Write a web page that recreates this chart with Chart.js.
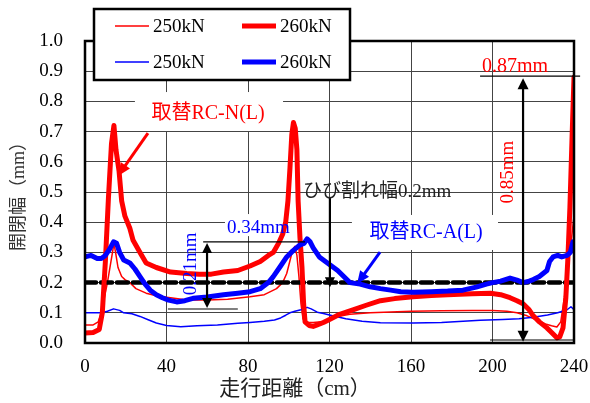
<!DOCTYPE html>
<html><head><meta charset="utf-8">
<script src="https://cdn.jsdelivr.net/npm/chart.js@4.4.1/dist/chart.umd.min.js"></script>
<style>html,body{margin:0;padding:0;background:#fff;}canvas{display:block;}</style>
</head><body>
<canvas id="c" width="590" height="403"></canvas>
<script>
// ---- tick labels ----
const xTicks = [0, 40, 80, 120, 160, 200, 240];
const yTicks = [0.0, 0.1, 0.2, 0.3, 0.4, 0.5, 0.6, 0.7, 0.8, 0.9, 1.0];

// ---- series labels ----
const seriesLabels = ['250kN', '260kN', '250kN', '260kN'];

// ---- 取替RC-N(L) 250kN (thin red) ----
const redThinX = [0,4,6.5,8,9.5,11,12.5,13.5,14.2,15,16.2,18,19.6,22,25,30,36,42,50,60,70,81,88,94,97,99,100.5,102,103,104,105,106,107,109,112,116,120,124,130,140,150,160,175,190,200,207,212,217,222,226,229,231.6,233.5,235.6,237,238.5,240];
const redThinY = [0.06,0.06,0.07,0.1,0.15,0.2,0.26,0.3,0.33,0.3,0.25,0.22,0.21,0.2,0.18,0.165,0.155,0.15,0.142,0.142,0.145,0.153,0.16,0.18,0.2,0.23,0.27,0.31,0.32,0.29,0.22,0.13,0.08,0.068,0.068,0.07,0.078,0.088,0.095,0.1,0.103,0.105,0.107,0.108,0.108,0.105,0.1,0.09,0.075,0.063,0.057,0.053,0.07,0.165,0.25,0.33,0.42];

// ---- 取替RC-N(L) 260kN (thick red) ----
const redThickX = [0,4,7,8.5,10,11.5,13,14.2,15.2,16.7,18,19.6,22,23.6,27,30,35,42,50,56,62,68,75,81,86,90,92.4,95,97,98.5,99.6,100.6,101.5,102.3,103.2,104,104.6,105.5,106.5,107.3,108,110,112,114,117,120,125,131.5,138,145,152,161,170,178,190,199,204,208.6,212,215,218,220,223,226.7,229,231.6,233,234.6,236,237,238,239,240];
const redThickY = [0.033,0.035,0.045,0.1,0.27,0.48,0.66,0.72,0.64,0.57,0.47,0.42,0.38,0.34,0.30,0.265,0.25,0.235,0.23,0.228,0.228,0.235,0.24,0.255,0.27,0.29,0.30,0.33,0.36,0.40,0.47,0.58,0.69,0.73,0.71,0.64,0.47,0.35,0.25,0.13,0.07,0.058,0.055,0.06,0.068,0.078,0.095,0.11,0.125,0.14,0.147,0.153,0.157,0.16,0.163,0.165,0.16,0.15,0.14,0.13,0.11,0.09,0.07,0.05,0.035,0.017,0.02,0.05,0.15,0.28,0.45,0.67,0.88];

// ---- 取替RC-A(L) 250kN (thin blue) ----
const blueThinX = [0,4,8,11,14,17,19,23,27,31,35,40,47,55,65,75,81,88,93,96,98.5,100.6,103,106,109,111,114,117,120,128,136,145,161,175,194,205,213,220,227,232,236.6,238.5,240];
const blueThinY = [0.1,0.1,0.1,0.105,0.113,0.108,0.1,0.097,0.088,0.077,0.066,0.058,0.054,0.057,0.06,0.065,0.068,0.072,0.076,0.083,0.092,0.1,0.105,0.11,0.118,0.113,0.102,0.098,0.093,0.08,0.072,0.067,0.066,0.068,0.075,0.078,0.08,0.085,0.093,0.1,0.11,0.12,0.11];

// ---- 取替RC-A(L) 260kN (thick blue) ----
const blueThickX = [0,3,6,8,10,12,14,15.5,17,19,22,24.5,27,29.5,32,35,38,41,45,49,53,60,68,75,81,86,90,92.4,96,99,102,105.5,107.5,109,110.5,112,115,118,121,124,127,130,135,140,145,150,155,161,170,178,185.5,192,197,200,204,208.6,212,215,218,220,223,226.7,228,229.7,232,234,236.6,238.2,239.5,240];
const blueThickY = [0.285,0.29,0.28,0.28,0.29,0.31,0.335,0.33,0.3,0.275,0.265,0.245,0.22,0.195,0.175,0.16,0.15,0.142,0.136,0.14,0.148,0.152,0.16,0.165,0.17,0.18,0.2,0.22,0.255,0.285,0.305,0.325,0.33,0.345,0.335,0.315,0.285,0.27,0.255,0.24,0.22,0.2,0.195,0.186,0.18,0.175,0.17,0.168,0.17,0.172,0.175,0.185,0.195,0.2,0.205,0.215,0.208,0.2,0.205,0.21,0.22,0.24,0.27,0.285,0.29,0.285,0.29,0.3,0.335,0.32];

// ---- crack-width limit 0.2mm ----
const limitX = [0, 240];
const limitY = [0.2, 0.2];

const pts = (xs, ys) => xs.map((x, i) => ({x, y: ys[i]}));

const SERIF = '"Liberation Serif", "Noto Sans CJK JP", serif';
const RED = '#ff0000', BLUE = '#0000ff';

function arrowHead(ctx, x1, y1, x2, y2, len, w) {
  const a = Math.atan2(y2 - y1, x2 - x1);
  ctx.beginPath();
  ctx.moveTo(x2, y2);
  ctx.lineTo(x2 - len * Math.cos(a) + (w / 2) * Math.sin(a), y2 - len * Math.sin(a) - (w / 2) * Math.cos(a));
  ctx.lineTo(x2 - len * Math.cos(a) - (w / 2) * Math.sin(a), y2 - len * Math.sin(a) + (w / 2) * Math.cos(a));
  ctx.closePath();
  ctx.fill();
}
function arrow(ctx, x1, y1, x2, y2, color, lw, len, w, both) {
  ctx.save();
  ctx.strokeStyle = color; ctx.fillStyle = color; ctx.lineWidth = lw;
  const a = Math.atan2(y2 - y1, x2 - x1);
  const sx = both ? x1 + (len - 1) * Math.cos(a) : x1, sy = both ? y1 + (len - 1) * Math.sin(a) : y1;
  const ex = x2 - (len - 1) * Math.cos(a), ey = y2 - (len - 1) * Math.sin(a);
  ctx.beginPath(); ctx.moveTo(sx, sy); ctx.lineTo(ex, ey); ctx.stroke();
  arrowHead(ctx, x1, y1, x2, y2, len, w);
  if (both) arrowHead(ctx, x2, y2, x1, y1, len, w);
  ctx.restore();
}

const deco = {
  id: 'deco',
  beforeDatasetsDraw(chart) {
    const {ctx} = chart, X = chart.scales.x, Y = chart.scales.y;
    const box = (x1, x2, y1, y2) => {
      const a = X.getPixelForValue(x1), b = X.getPixelForValue(x2);
      const c = Y.getPixelForValue(y2), d = Y.getPixelForValue(y1);
      ctx.fillRect(a, c, b - a, d - c);
    };
    ctx.save();
    ctx.fillStyle = '#ffffff';
    box(24.5, 97.2, 0.702, 0.831);   // 取替RC-N(L)
    box(68.7, 97.2, 0.354, 0.427);   // 0.34mm
    box(131, 202.7, 0.308, 0.424);   // 取替RC-A(L)
    ctx.restore();
  },
  afterDraw(chart) {
    const {ctx, chartArea: ca} = chart, X = chart.scales.x, Y = chart.scales.y;
    const px = v => X.getPixelForValue(v), py = v => Y.getPixelForValue(v);
    ctx.save();
    // frame
    ctx.strokeStyle = '#000'; ctx.lineWidth = 2.5;
    ctx.strokeRect(ca.left, ca.top, ca.right - ca.left, ca.bottom - ca.top);

    // reference lines
    const hline = (y, x1, x2) => {
      ctx.save(); ctx.strokeStyle = '#000'; ctx.lineWidth = 1.2;
      ctx.beginPath(); ctx.moveTo(px(x1), py(y)); ctx.lineTo(px(x2), py(y)); ctx.stroke(); ctx.restore();
    };
    hline(0.884, 193.9, 243);
    hline(0.01, 198.8, 240);
    hline(0.335, 58, 108);
    hline(0.1126, 40.7, 75);

    // arrows
    arrow(ctx, px(215), py(0.877), px(215), py(0.004), '#000', 2.2, 11, 11, true);
    arrow(ctx, px(59.9), py(0.331), px(59.9), py(0.116), '#000', 2.2, 10, 10, true);
    arrow(ctx, px(120.2), py(0.48), px(120.2), py(0.185), '#000', 2.2, 10, 10, false);
    arrow(ctx, px(30.9), py(0.695), px(16.2), py(0.553), RED, 3, 13, 11, false);
    arrow(ctx, px(144.8), py(0.301), px(133.5), py(0.195), BLUE, 3, 13, 11, false);

    // texts
    ctx.textBaseline = 'middle';
    ctx.textAlign = 'center';
    ctx.font = '20px ' + SERIF;
    ctx.fillStyle = RED;
    ctx.fillText('取替RC-N(L)', px(60.4), py(0.758));
    ctx.fillStyle = BLUE;
    ctx.fillText('取替RC-A(L)', px(167.4), py(0.364));
    ctx.font = '19px ' + SERIF;
    ctx.textAlign = 'left';
    ctx.fillStyle = '#222';
    ctx.fillText('ひび割れ幅0.2mm', px(107), py(0.5));
    ctx.fillStyle = BLUE;
    ctx.fillText('0.34mm', px(69.7), py(0.381));
    ctx.font = '20px ' + SERIF;
    ctx.fillStyle = RED;
    ctx.fillText('0.87mm', px(194.8), py(0.915));
    const vtext = (t, x, y, col) => {
      ctx.save(); ctx.translate(px(x), py(y)); ctx.rotate(-Math.PI / 2);
      ctx.textAlign = 'center'; ctx.fillStyle = col; ctx.font = '19px ' + SERIF;
      ctx.fillText(t, 0, 0); ctx.restore();
    };
    vtext('0.21mm', 52, 0.262, BLUE);
    vtext('0.85mm', 207.6, 0.566, RED);

    // x axis title (centred on the canvas as in the reference)
    ctx.textAlign = 'center';
    ctx.fillStyle = '#222';
    ctx.font = '21px ' + SERIF;
    ctx.fillText('走行距離（cm）', chart.width / 2, 389);

    // legend
    const lx = 94, ly = 9, lw = 256, lh = 71;
    ctx.fillStyle = '#fff';
    ctx.fillRect(lx, ly, lw, lh);
    ctx.strokeStyle = '#000'; ctx.lineWidth = 2.5;
    ctx.strokeRect(lx, ly, lw, lh);
    const cols = [lx + 21, lx + 148], rows = [ly + 17, ly + 53];
    ctx.font = '19px ' + SERIF;
    ctx.textAlign = 'left';
    const ds = chart.data.datasets;
    for (let i = 0; i < 4; i++) {
      const d = ds[i];
      const cx = cols[i % 2], cy = rows[Math.floor(i / 2)];
      ctx.strokeStyle = d.borderColor; ctx.lineWidth = d.borderWidth; ctx.lineCap = 'butt';
      ctx.beginPath(); ctx.moveTo(cx, cy); ctx.lineTo(cx + 34, cy); ctx.stroke();
      ctx.fillStyle = '#000';
      ctx.fillText(d.label, cx + 38, cy + 1);
    }
    ctx.restore();
  }
};

new Chart(document.getElementById('c'), {
  type: 'line',
  data: {
    datasets: [
      {label: seriesLabels[0], data: pts(redThinX, redThinY), borderColor: RED, borderWidth: 1.5, order: 4},
      {label: seriesLabels[1], data: pts(redThickX, redThickY), borderColor: RED, borderWidth: 5, order: 1},
      {label: seriesLabels[2], data: pts(blueThinX, blueThinY), borderColor: BLUE, borderWidth: 1.5, order: 3},
      {label: seriesLabels[3], data: pts(blueThickX, blueThickY), borderColor: BLUE, borderWidth: 5, order: 0},
      {label: 'limit', data: pts(limitX, limitY), borderColor: '#000', borderWidth: 4.5, borderDash: [11, 5], order: 2}
    ]
  },
  options: {
    responsive: false,
    animation: false,
    devicePixelRatio: 1,
    layout: {padding: {top: 41, right: 16, left: 0, bottom: 0}},
    elements: {
      point: {radius: 0},
      line: {tension: 0, borderJoinStyle: 'round', borderCapStyle: 'round', fill: false}
    },
    plugins: {legend: {display: false}, tooltip: {enabled: false}},
    scales: {
      x: {
        type: 'linear', min: 0, max: 240,
        afterBuildTicks: s => { s.ticks = xTicks.map(v => ({value: v})); },
        afterFit: s => { s.height = 60; s.paddingLeft = 0; s.paddingRight = 0; },
        grid: {color: '#444', lineWidth: 1, drawTicks: false},
        border: {display: false},
        ticks: {padding: 13, color: '#000', font: {family: SERIF, size: 19}, maxRotation: 0, callback: v => String(v)}
      },
      y: {
        type: 'linear', min: 0, max: 1,
        afterBuildTicks: s => { s.ticks = yTicks.map(v => ({value: v})); },
        afterFit: s => { s.width = 85; s.paddingTop = 0; s.paddingBottom = 0; },
        grid: {color: '#444', lineWidth: 1, drawTicks: false},
        border: {display: false},
        ticks: {padding: 22, color: '#000', font: {family: SERIF, size: 19}, callback: v => Number(v).toFixed(1)},
        title: {display: true, text: '開閉幅（mm）', color: '#333', font: {family: SERIF, size: 18}, padding: {top: 8, bottom: 0}}
      }
    }
  },
  plugins: [deco]
});
</script>
</body></html>
